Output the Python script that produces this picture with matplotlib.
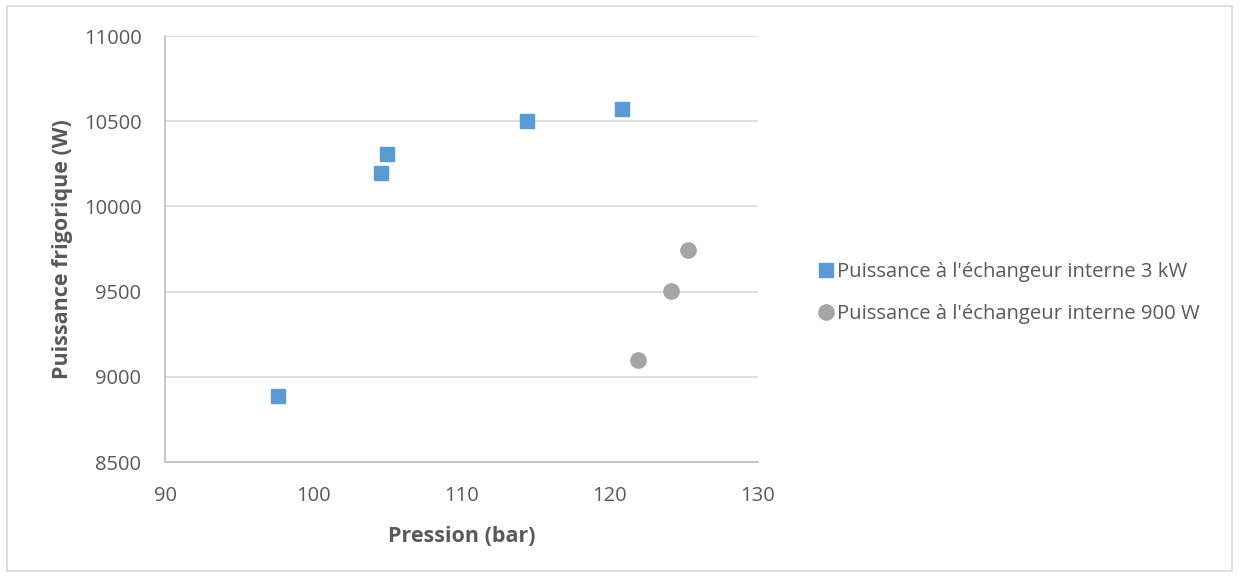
import matplotlib
matplotlib.use("Agg")
import matplotlib.pyplot as plt
from matplotlib.patches import Rectangle

# Data
pression_3kw = [97.6, 104.6, 105.0, 114.4, 120.8]
puissance_3kw = [8885, 10195, 10305, 10500, 10570]
pression_900w = [121.9, 124.1, 125.3]
puissance_900w = [9100, 9505, 9745]
labels = ["Puissance à l'échangeur interne 3 kW",
          "Puissance à l'échangeur interne 900 W"]

plt.rcParams["font.family"] = ["Open Sans", "DejaVu Sans"]
text_col = "#595959"
grid_col = "#d9d9d9"

fig = plt.figure(figsize=(12.39, 5.77), dpi=100)
ax = fig.add_axes([0.1332, 0.1993, 0.4786, 0.7383])

ax.plot(pression_3kw, puissance_3kw, linestyle="none", marker="s",
        markersize=10.5, color="#5B9BD5", markeredgecolor="#5B9BD5",
        label=labels[0], zorder=3)
ax.plot(pression_900w, puissance_900w, linestyle="none", marker="o",
        markersize=11, color="#A5A5A5", markeredgecolor="#A5A5A5",
        label=labels[1], zorder=3)

ax.set_xlim(90, 130)
ax.set_ylim(8500, 11000)
ax.set_xticks(range(90, 131, 10))
ax.set_yticks(range(8500, 11001, 500))
ax.yaxis.grid(True, color=grid_col, linewidth=1.2)
ax.set_axisbelow(True)

for s in ["top", "right"]:
    ax.spines[s].set_visible(False)
for s in ["left", "bottom"]:
    ax.spines[s].set_color("#bfbfbf")
    ax.spines[s].set_linewidth(1.2)

ax.tick_params(axis="both", length=0, labelsize=14.5, labelcolor=text_col)
ax.tick_params(axis="x", pad=17)
ax.tick_params(axis="y", pad=17)

ax.set_xlabel("Pression (bar)", fontsize=15.5, fontweight="bold",
              color=text_col, labelpad=15)
ax.set_ylabel("Puissance frigorique (W)", fontsize=15.5, fontweight="bold",
              color=text_col, labelpad=8)

leg = fig.legend(loc="center left", bbox_to_anchor=(0.643, 0.492),
                 frameon=False, fontsize=14.6, handletextpad=0.0,
                 handlelength=1.1, labelspacing=1.1)
for t in leg.get_texts():
    t.set_color(text_col)

# chart border
fig.patches.append(Rectangle((0.006, 0.01), 0.988, 0.98, transform=fig.transFigure,
                             fill=False, edgecolor="#d9d9d9", linewidth=1.2))

fig.savefig("out.png", dpi=100)
